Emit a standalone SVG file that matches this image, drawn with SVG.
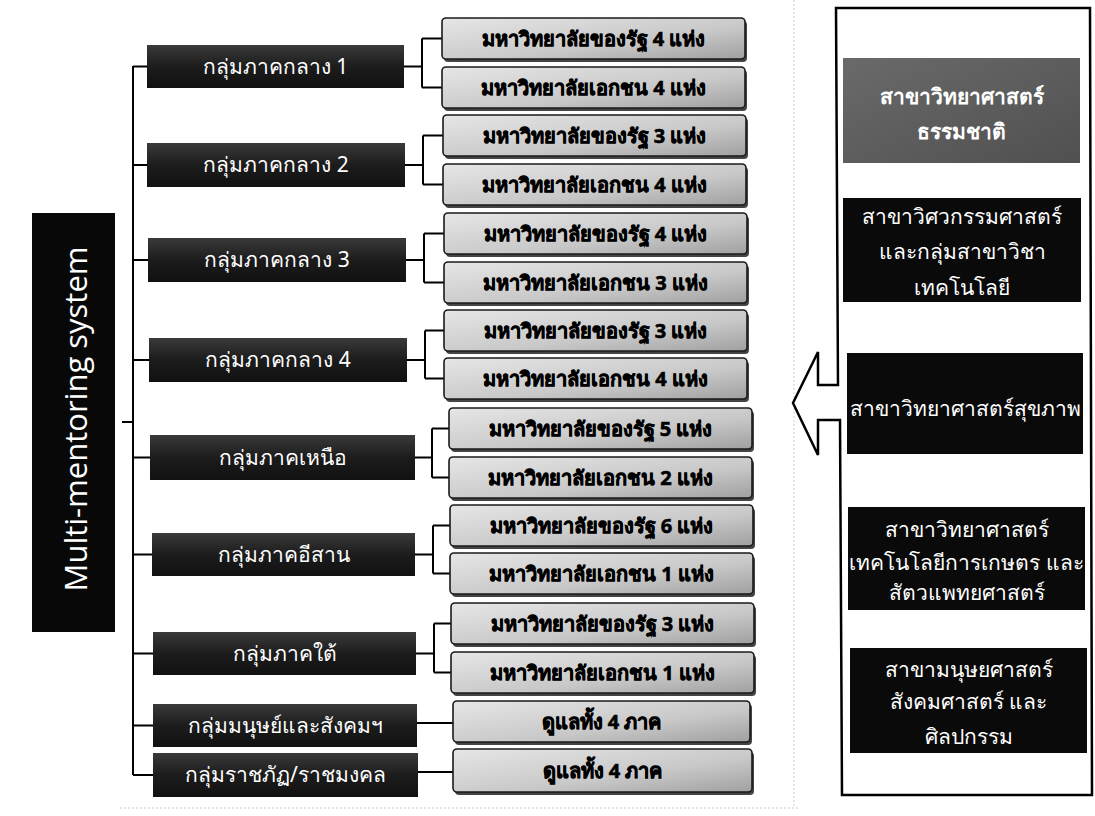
<svg xmlns="http://www.w3.org/2000/svg" width="1095" height="816" viewBox="0 0 1095 816">
<defs>
<linearGradient id="gDark" x1="0" y1="0" x2="0" y2="1">
<stop offset="0" stop-color="#3a3a3a"/>
<stop offset="0.5" stop-color="#1c1c1c"/>
<stop offset="1" stop-color="#111"/>
</linearGradient>
<linearGradient id="gUni" x1="0" y1="0" x2="1" y2="1">
<stop offset="0" stop-color="#e6e6e6"/>
<stop offset="0.6" stop-color="#c8c8c8"/>
<stop offset="1" stop-color="#a0a0a0"/>
</linearGradient>
<linearGradient id="gGray" x1="0" y1="0" x2="1" y2="1">
<stop offset="0" stop-color="#6a6a6a"/>
<stop offset="1" stop-color="#505050"/>
</linearGradient>
</defs>
<style>
.grp rect{fill:url(#gDark);}
.grp text{fill:#fff;font-family:"Noto Sans","DejaVu Sans",sans-serif;font-size:21px;text-anchor:middle;}
.uni .sh{fill:#444;}
.uni .bx{fill:url(#gUni);stroke:#1a1a1a;stroke-width:1.6;}
.uni text{fill:#000;stroke:#000;stroke-width:0.6;font-family:"Noto Sans","DejaVu Sans",sans-serif;font-size:20px;font-weight:bold;text-anchor:middle;}
.pan rect{fill:#0a0a0a;}
.pan text{fill:#fff;font-family:"Noto Sans","DejaVu Sans",sans-serif;font-size:21px;text-anchor:middle;}
.conn{fill:none;stroke:#000;stroke-width:2;}
</style>
<rect width="1095" height="816" fill="#fff"/>
<g id="frame" fill="none" stroke="#cfcfcf" stroke-width="1" stroke-dasharray="2 2">
<path d="M120 808 L800 808 M794 0 L794 808"/>
</g>

<g id="title">
<rect x="32" y="213" width="83" height="419" fill="#080808"/>
<text transform="translate(87,419) rotate(-90)" fill="#fff" font-family="Open Sans, Liberation Sans, sans-serif" font-size="31" text-anchor="middle">Multi-mentoring system</text>
</g>

<g id="connectors" class="conn">
<path d="M133 66 L133 775 M122 422 L133 422"/>
<path d="M133 66.5 H147 M133 165 H147 M133 260 H148 M133 360 H149 M133 457.5 H150 M133 554.5 H152 M133 653.5 H153 M133 725.5 H153 M133 775 H153"/>
<path d="M404 66.5 H422 M422 38.5 V87.5 M422 38.5 H442 M422 87.5 H442"/>
<path d="M405 165 H423 M423 135.5 V184.5 M423 135.5 H443 M423 184.5 H443"/>
<path d="M406 260 H424 M424 233.5 V282.5 M424 233.5 H444 M424 282.5 H444"/>
<path d="M407 360 H425 M425 330.5 V378.5 M425 330.5 H444 M425 378.5 H444"/>
<path d="M415 457.5 H432 M432 428.5 V477.5 M432 428.5 H449 M432 477.5 H449"/>
<path d="M415 554.5 H433 M433 525.5 V573.5 M433 525.5 H450 M433 573.5 H450"/>
<path d="M416 653.5 H434 M434 623.5 V672.5 M434 623.5 H451 M434 672.5 H451"/>
<path d="M417 723 H453 M418 772 H453"/>
</g>

<g id="g1" class="grp"><rect x="147" y="45" width="257" height="43"/><text x="275.5" y="73.5">กลุ่มภาคกลาง 1</text></g>
<g id="g2" class="grp"><rect x="147" y="143" width="258" height="44"/><text x="276" y="172">กลุ่มภาคกลาง 2</text></g>
<g id="g3" class="grp"><rect x="148" y="238" width="258" height="44"/><text x="277" y="267">กลุ่มภาคกลาง 3</text></g>
<g id="g4" class="grp"><rect x="149" y="338" width="258" height="44"/><text x="278" y="367">กลุ่มภาคกลาง 4</text></g>
<g id="g5" class="grp"><rect x="150" y="435" width="265" height="45"/><text x="282.5" y="464.5">กลุ่มภาคเหนือ</text></g>
<g id="g6" class="grp"><rect x="152" y="533" width="263" height="43"/><text x="283.5" y="561.5">กลุ่มภาคอีสาน</text></g>
<g id="g7" class="grp"><rect x="153" y="632" width="263" height="43"/><text x="284.5" y="660.5">กลุ่มภาคใต้</text></g>
<g id="g8" class="grp"><rect x="153" y="704" width="264" height="43"/><text x="285" y="732.5">กลุ่มมนุษย์และสังคมฯ</text></g>
<g id="g9" class="grp"><rect x="153" y="753" width="265" height="44"/><text x="285.5" y="782">กลุ่มราชภัฏ/ราชมงคล</text></g>

<g id="u1" class="uni"><rect class="sh" x="444" y="21" width="303" height="41" rx="4"/><rect class="bx" x="442" y="18" width="303" height="41" rx="4"/><text x="593.5" y="46">มหาวิทยาลัยของรัฐ 4 แห่ง</text></g>
<g id="u2" class="uni"><rect class="sh" x="444" y="70" width="303" height="41" rx="4"/><rect class="bx" x="442" y="67" width="303" height="41" rx="4"/><text x="593.5" y="95">มหาวิทยาลัยเอกชน 4 แห่ง</text></g>
<g id="u3" class="uni"><rect class="sh" x="445" y="118" width="303" height="41" rx="4"/><rect class="bx" x="443" y="115" width="303" height="41" rx="4"/><text x="594.5" y="143">มหาวิทยาลัยของรัฐ 3 แห่ง</text></g>
<g id="u4" class="uni"><rect class="sh" x="445" y="167" width="303" height="41" rx="4"/><rect class="bx" x="443" y="164" width="303" height="41" rx="4"/><text x="594.5" y="192">มหาวิทยาลัยเอกชน 4 แห่ง</text></g>
<g id="u5" class="uni"><rect class="sh" x="446" y="216" width="303" height="41" rx="4"/><rect class="bx" x="444" y="213" width="303" height="41" rx="4"/><text x="595.5" y="241">มหาวิทยาลัยของรัฐ 4 แห่ง</text></g>
<g id="u6" class="uni"><rect class="sh" x="446" y="265" width="303" height="41" rx="4"/><rect class="bx" x="444" y="262" width="303" height="41" rx="4"/><text x="595.5" y="290">มหาวิทยาลัยเอกชน 3 แห่ง</text></g>
<g id="u7" class="uni"><rect class="sh" x="446" y="313" width="303" height="41" rx="4"/><rect class="bx" x="444" y="310" width="303" height="41" rx="4"/><text x="595.5" y="338">มหาวิทยาลัยของรัฐ 3 แห่ง</text></g>
<g id="u8" class="uni"><rect class="sh" x="446" y="361" width="303" height="41" rx="4"/><rect class="bx" x="444" y="358" width="303" height="41" rx="4"/><text x="595.5" y="386">มหาวิทยาลัยเอกชน 4 แห่ง</text></g>
<g id="u9" class="uni"><rect class="sh" x="451" y="411" width="303" height="41" rx="4"/><rect class="bx" x="449" y="408" width="303" height="41" rx="4"/><text x="600.5" y="436">มหาวิทยาลัยของรัฐ 5 แห่ง</text></g>
<g id="u10" class="uni"><rect class="sh" x="451" y="460" width="303" height="41" rx="4"/><rect class="bx" x="449" y="457" width="303" height="41" rx="4"/><text x="600.5" y="485">มหาวิทยาลัยเอกชน 2 แห่ง</text></g>
<g id="u11" class="uni"><rect class="sh" x="452" y="508" width="303" height="41" rx="4"/><rect class="bx" x="450" y="505" width="303" height="41" rx="4"/><text x="601.5" y="533">มหาวิทยาลัยของรัฐ 6 แห่ง</text></g>
<g id="u12" class="uni"><rect class="sh" x="452" y="556" width="303" height="41" rx="4"/><rect class="bx" x="450" y="553" width="303" height="41" rx="4"/><text x="601.5" y="581">มหาวิทยาลัยเอกชน 1 แห่ง</text></g>
<g id="u13" class="uni"><rect class="sh" x="453" y="606" width="303" height="41" rx="4"/><rect class="bx" x="451" y="603" width="303" height="41" rx="4"/><text x="602.5" y="631">มหาวิทยาลัยของรัฐ 3 แห่ง</text></g>
<g id="u14" class="uni"><rect class="sh" x="453" y="655" width="303" height="41" rx="4"/><rect class="bx" x="451" y="652" width="303" height="41" rx="4"/><text x="602.5" y="680">มหาวิทยาลัยเอกชน 1 แห่ง</text></g>
<g id="u15" class="uni"><rect class="sh" x="455" y="704" width="297" height="41" rx="4"/><rect class="bx" x="453" y="701" width="297" height="41" rx="4"/><text x="601.5" y="729">ดูแลทั้ง 4 ภาค</text></g>
<g id="u16" class="uni"><rect class="sh" x="455" y="752" width="299" height="43" rx="4"/><rect class="bx" x="453" y="749" width="299" height="43" rx="4"/><text x="602.5" y="778">ดูแลทั้ง 4 ภาค</text></g>

<g id="panel">
<path d="M836 8 L1090 8 L1092 795 L842 795 L840 420 L818 420 L818 455 L793 403 L818 352 L818 385 L838 385 Z" fill="#fff" stroke="#000" stroke-width="2.5" stroke-linejoin="miter"/>
</g>
<g id="p1" class="pan"><rect x="843" y="58" width="237" height="105" style="fill:url(#gGray)"/><text x="961.5" y="104" font-weight="bold" font-size="22">สาขาวิทยาศาสตร์</text><text x="961.5" y="139" font-weight="bold" font-size="22">ธรรมชาติ</text></g>
<g id="p2" class="pan"><rect x="843" y="198" width="238" height="104"/><text x="962" y="224">สาขาวิศวกรรมศาสตร์</text><text x="962" y="259">และกลุ่มสาขาวิชา</text><text x="962" y="295">เทคโนโลยี</text></g>
<g id="p3" class="pan"><rect x="847" y="353" width="236" height="101"/><text x="965" y="416" font-size="22">สาขาวิทยาศาสตร์สุขภาพ</text></g>
<g id="p4" class="pan"><rect x="848" y="507" width="237" height="103"/><text x="966.5" y="537" font-size="17">สาขาวิทยาศาสตร์</text><text x="966.5" y="570" font-size="17">เทคโนโลยีการเกษตร และ</text><text x="966.5" y="600" font-size="17">สัตวแพทยศาสตร์</text></g>
<g id="p5" class="pan"><rect x="850" y="648" width="237" height="105"/><text x="968.5" y="677" font-size="20">สาขามนุษยศาสตร์</text><text x="968.5" y="709" font-size="20">สังคมศาสตร์ และ</text><text x="968.5" y="744" font-size="20">ศิลปกรรม</text></g>
</svg>
